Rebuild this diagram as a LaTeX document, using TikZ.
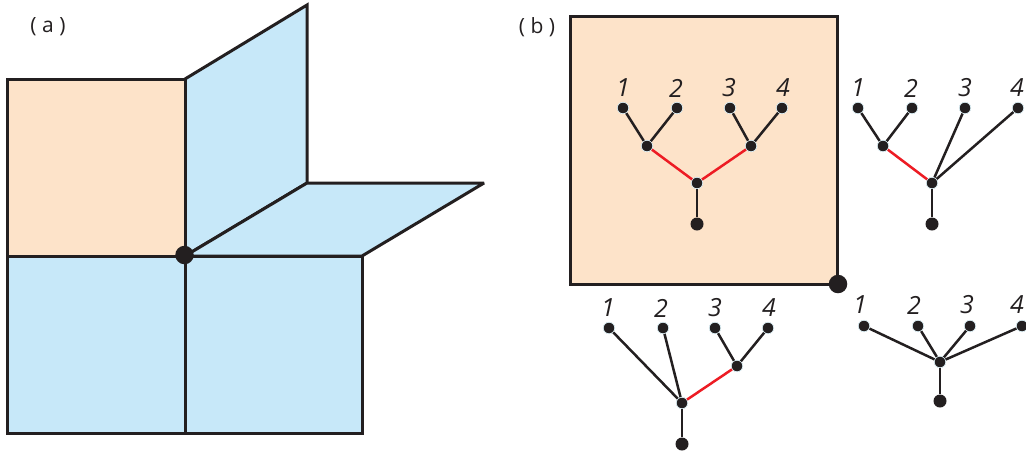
\documentclass[tikz,border=0pt]{standalone}
\usepackage{fontspec}
\setmainfont{Open Sans}
\definecolor{peach}{HTML}{FDE3C9}
\definecolor{sky}{HTML}{C7E8F9}
\definecolor{ink}{HTML}{231F20}
\definecolor{redline}{HTML}{ED1C24}
\definecolor{halo}{HTML}{DCEFF5}
\tikzset{
  panel/.style={draw=ink,line width=3pt,miter limit=3},
  edgeblack/.style={draw=ink,line width=2.5pt},
  edgered/.style={draw=redline,line width=2.5pt},
  dot/.style={circle,fill=ink,draw=halo,line width=.7pt,minimum size=11.5pt,inner sep=0pt},
  rootdot/.style={circle,fill=ink,minimum size=13pt,inner sep=0pt},
  bigdot/.style={circle,fill=ink,minimum size=18.5pt,inner sep=0pt},
  num/.style={inner sep=0pt,font=\fontsize{25}{25}\selectfont\itshape,text=ink},
  tag/.style={inner sep=0pt,font=\fontsize{21}{21}\selectfont,text=ink},
}
\begin{document}
\begin{tikzpicture}[x=1pt,y=-1pt]
\useasboundingbox (0,0) rectangle (1026,451);
% (a) panels
\path[fill=sky,panel] (185,79) -- (307,5) -- (307,183) -- (185,256) -- cycle;
\path[fill=sky,panel] (185,256) -- (307,183) -- (484,183) -- (362,256) -- cycle;
\path[fill=peach,panel] (7,79) rectangle (185,256);
\path[fill=sky,panel] (7,256) rectangle (185,433);
\path[fill=sky,panel] (185,256) rectangle (362,433);
\node[bigdot] (corA) at (184.5,255) {};
\node[tag] (labA) at (48,27) {( a )};
% (b) square
\path[fill=peach,panel] (570,16) rectangle (837,284);
\node[bigdot] (corB) at (838,284) {};
\node[tag] (labB) at (537,27) {( b )};
% tree 1
\node[dot] (a1) at (623,108) {};
\node[dot] (a2) at (677,108) {};
\node[dot] (a3) at (730,108) {};
\node[dot] (a4) at (782,108) {};
\node[dot] (al) at (647,146) {};
\node[dot] (ar) at (751,146) {};
\node[dot] (ac) at (697,183) {};
\node[rootdot] (ar0) at (697,224) {};
\draw[edgeblack] (a1) -- (al);
\draw[edgeblack] (a2) -- (al);
\draw[edgeblack] (a3) -- (ar);
\draw[edgeblack] (a4) -- (ar);
\draw[edgered] (al) -- (ac);
\draw[edgered] (ar) -- (ac);
\draw[edgeblack] (ac) -- (ar0);
\node[num] (na1) at (623,88) {1};
\node[num] (na2) at (676,88) {2};
\node[num] (na3) at (729,88) {3};
\node[num] (na4) at (783,88) {4};
% tree 2
\node[dot] (b1) at (858,108) {};
\node[dot] (b2) at (912,108) {};
\node[dot] (b3) at (965,108) {};
\node[dot] (b4) at (1018,108) {};
\node[dot] (bl) at (883,146) {};
\node[dot] (bc) at (932,183) {};
\node[rootdot] (br0) at (932,224) {};
\draw[edgeblack] (b1) -- (bl);
\draw[edgeblack] (b2) -- (bl);
\draw[edgeblack] (b3) -- (bc);
\draw[edgeblack] (b4) -- (bc);
\draw[edgered] (bl) -- (bc);
\draw[edgeblack] (bc) -- (br0);
\node[num] (nb1) at (858,88) {1};
\node[num] (nb2) at (911,88) {2};
\node[num] (nb3) at (965,88) {3};
\node[num] (nb4) at (1017,88) {4};
% tree 3
\node[dot] (c1) at (609,328) {};
\node[dot] (c2) at (663,328) {};
\node[dot] (c3) at (715,328) {};
\node[dot] (c4) at (768,328) {};
\node[dot] (cr) at (737,366) {};
\node[dot] (cc) at (682,403) {};
\node[rootdot] (cr0) at (682,444) {};
\draw[edgeblack] (c1) -- (cc);
\draw[edgeblack] (c2) -- (cc);
\draw[edgeblack] (c3) -- (cr);
\draw[edgeblack] (c4) -- (cr);
\draw[edgered] (cr) -- (cc);
\draw[edgeblack] (cc) -- (cr0);
\node[num] (nc1) at (608,308) {1};
\node[num] (nc2) at (661,308) {2};
\node[num] (nc3) at (715,308) {3};
\node[num] (nc4) at (769,308) {4};
% tree 4
\node[dot] (d1) at (864,326) {};
\node[dot] (d2) at (918,326) {};
\node[dot] (d3) at (970,326) {};
\node[dot] (d4) at (1022,326) {};
\node[dot] (dc) at (940,362) {};
\node[rootdot] (dr0) at (940,401) {};
\draw[edgeblack] (d1) -- (dc);
\draw[edgeblack] (d2) -- (dc);
\draw[edgeblack] (d3) -- (dc);
\draw[edgeblack] (d4) -- (dc);
\draw[edgeblack] (dc) -- (dr0);
\node[num] (nd1) at (860,305) {1};
\node[num] (nd2) at (914,305) {2};
\node[num] (nd3) at (967,305) {3};
\node[num] (nd4) at (1017,305) {4};
\end{tikzpicture}
\end{document}
